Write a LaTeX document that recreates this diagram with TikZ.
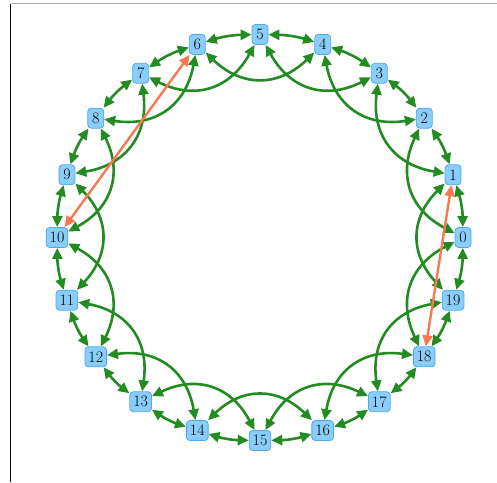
\documentclass[tikz,border=0pt]{standalone}
\usetikzlibrary{arrows.meta}
\definecolor{edgegreen}{RGB}{34,139,34}
\definecolor{edgeorange}{RGB}{250,120,80}
\definecolor{nodefill}{RGB}{137,206,250}
\definecolor{nodeborder}{RGB}{80,168,235}
\begin{document}
\begin{tikzpicture}[x=1pt,y=1pt,
  vnode/.style={draw=nodeborder, fill=nodefill, rounded corners=3.5pt, line width=0.8pt,
    minimum height=20pt, minimum width=16pt, inner xsep=3.5pt, inner ysep=2pt,
    font=\fontsize{16}{16}\selectfont},
  link/.style={draw=edgegreen, line width=2.6pt,
    {Triangle[length=11pt,width=10pt]}-{Triangle[length=11pt,width=10pt]}},
  extra/.style={draw=edgeorange, line width=2.4pt,
    {Triangle[length=11pt,width=10pt]}-{Triangle[length=11pt,width=10pt]}}]
\useasboundingbox (0,0) rectangle (497,482);
\draw[gray!60, line width=1pt] (10.5,478) -- (497,478);
\draw[black, line width=1.2pt] (10.5,478) -- (10.5,0.5);
\foreach \i in {0,...,19}
  \node[vnode] (n\i) at ({260+203*cos(\i*18)},{244.5+203*sin(\i*18)}) {\i};
\foreach \i in {0,...,19} {
  \pgfmathtruncatemacro\j{mod(\i+1,20)}
  \pgfmathtruncatemacro\k{mod(\i+2,20)}
  \draw[link] (n\i) to[bend right=8] (n\j);
  \draw[link] (n\i) to[bend left=44, looseness=1.18] (n\k);
}
\draw[extra] (n10) -- (n6);
\draw[extra] (n1) -- (n18);
\end{tikzpicture}
\end{document}
